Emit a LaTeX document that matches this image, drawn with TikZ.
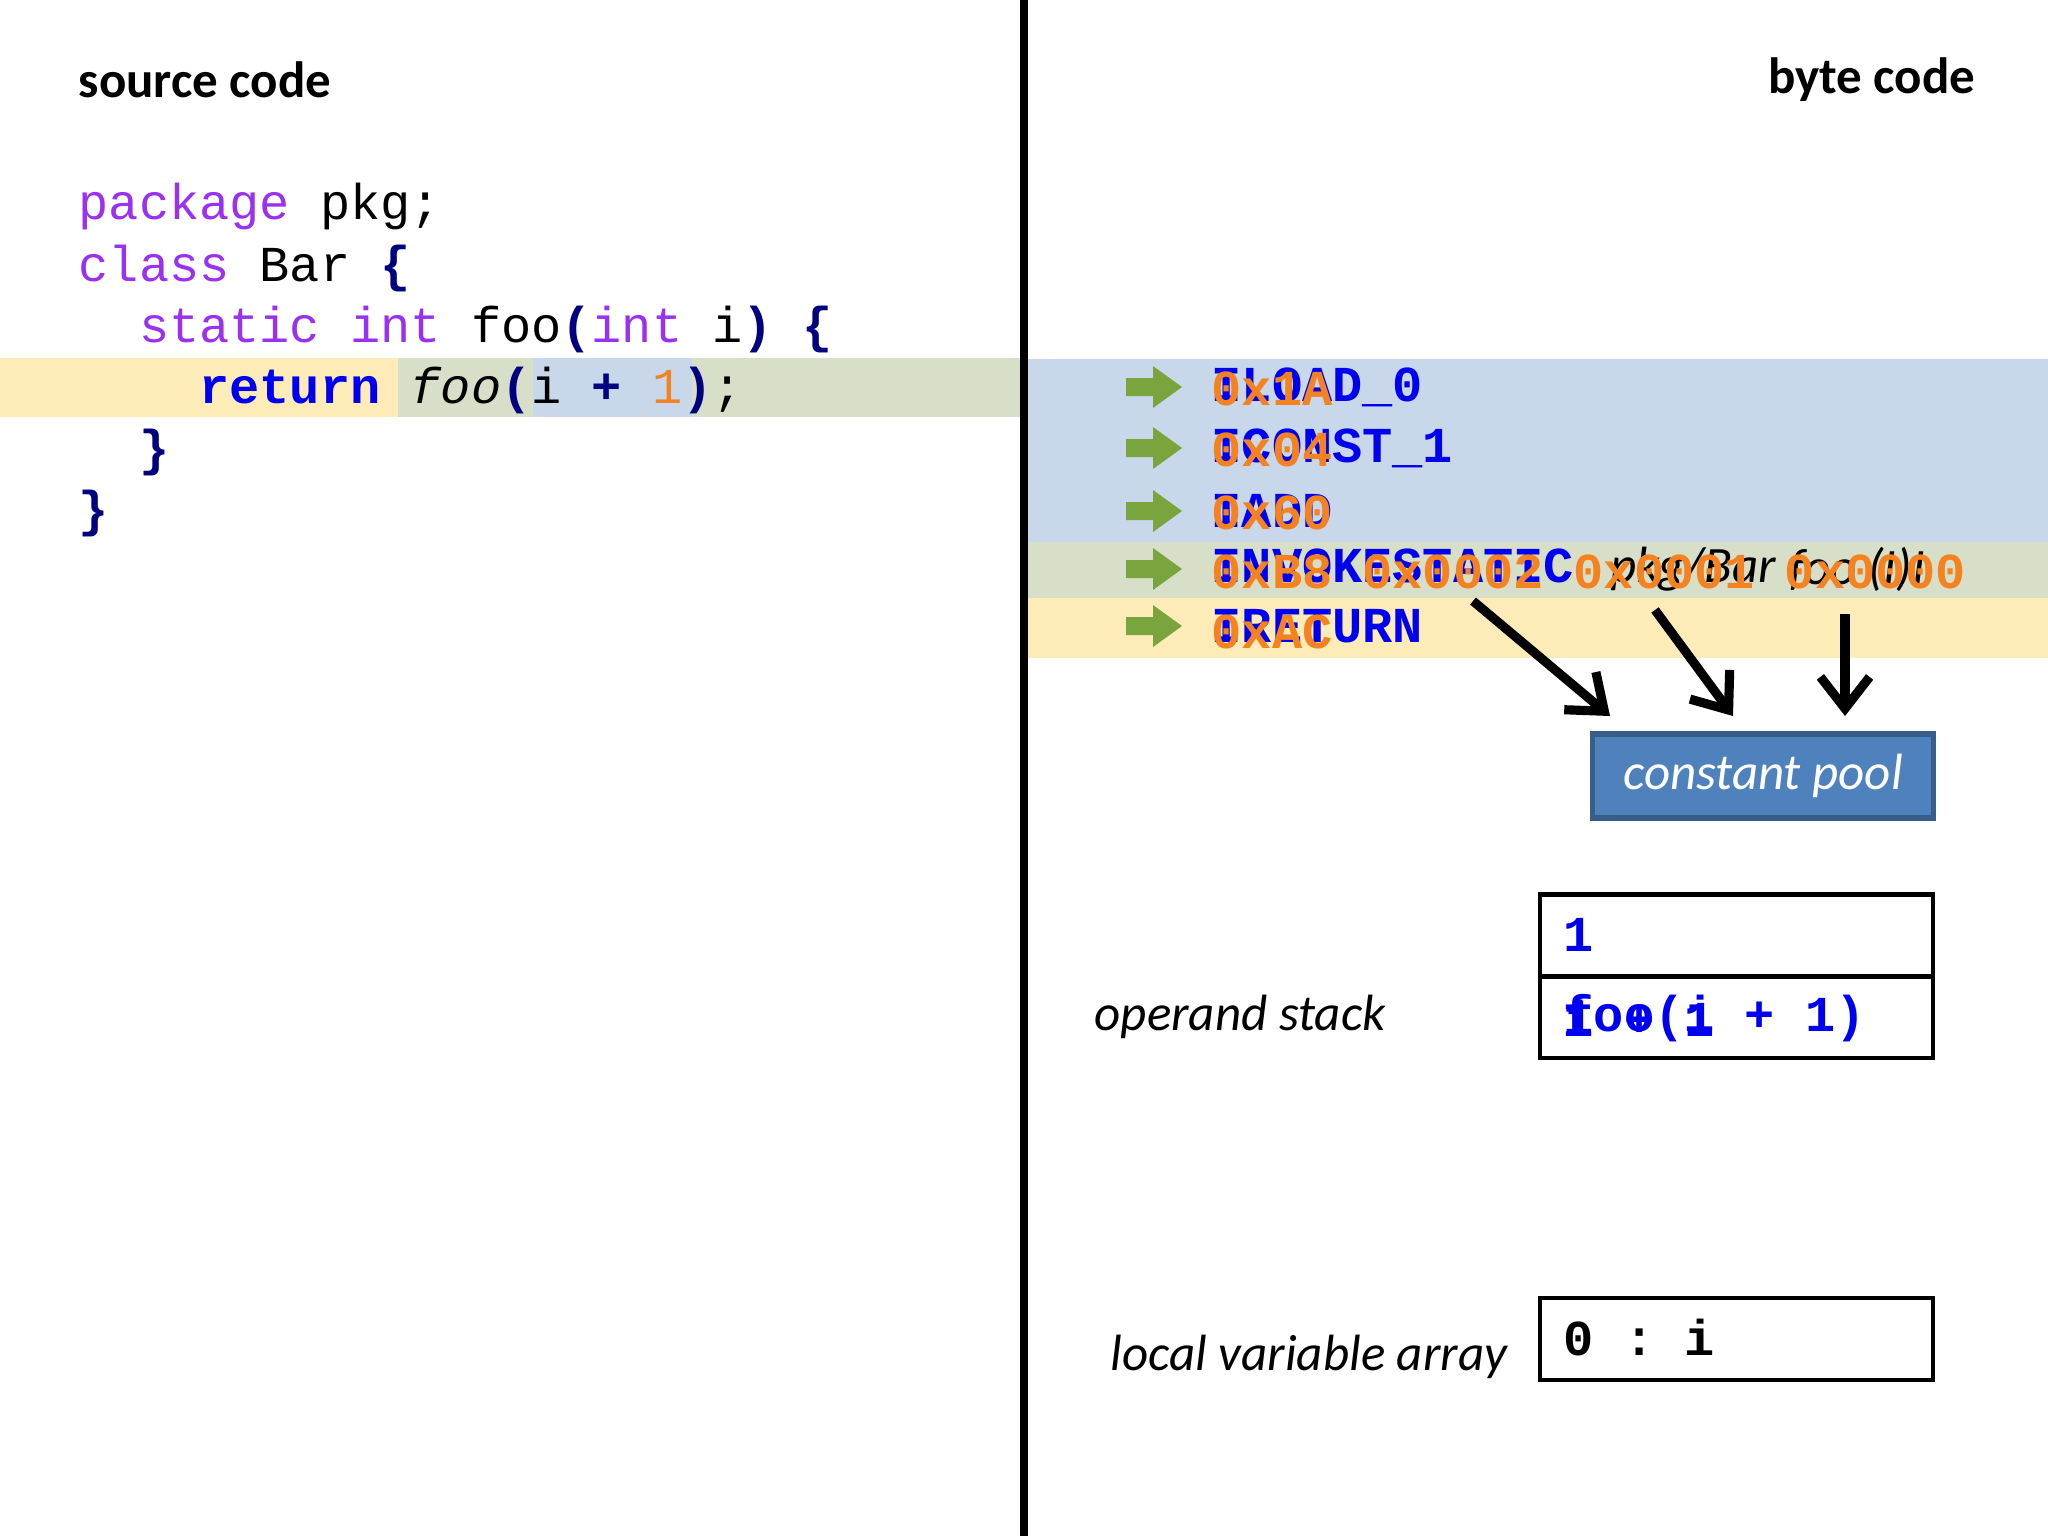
\documentclass[tikz,border=0pt]{standalone}
\usepackage{fontspec}
\usetikzlibrary{arrows.meta}
\setmainfont{Carlito}
\setmonofont{Liberation Mono}
\definecolor{kw}{HTML}{9A30F0}
\definecolor{nav}{HTML}{000080}
\definecolor{bl}{HTML}{0000F0}
\definecolor{orn}{HTML}{F58220}
\definecolor{byel}{HTML}{FDEBB8}
\definecolor{bgrn}{HTML}{D8DFC8}
\definecolor{bblu}{HTML}{C8D8EA}
\definecolor{garr}{HTML}{7AA53E}
\definecolor{cpf}{HTML}{4F81BD}
\definecolor{cpd}{HTML}{385D8A}
\begin{document}
\begin{tikzpicture}[x=0.01cm,y=-0.01cm,
  code/.style={anchor=west,inner sep=0,font=\fontsize{14.3}{16}\ttfamily},
  ins/.style={anchor=west,inner sep=0,font=\fontsize{14.3}{16}\ttfamily\bfseries,text=bl},
  hex/.style={anchor=west,inner sep=0,font=\fontsize{14.3}{16}\ttfamily\bfseries,text=orn},
  lab/.style={anchor=west,inner sep=0,font=\fontsize{14.5}{17}\selectfont\itshape},
  head/.style={inner sep=0,font=\fontsize{14.5}{17}\selectfont\bfseries},
  ptr/.style={line width=2.6pt,-{Straight Barb[length=9pt,width=14pt]}},
  cell/.style={draw,line width=1.3pt,minimum width=3.93cm,minimum height=0.82cm,inner sep=0}]
\useasboundingbox (0,0) rectangle (2048,1536);
% bands
\fill[byel] (0,358) rectangle (398,417);
\fill[bgrn] (398,358) rectangle (1022,417);
\fill[bblu] (533,358) rectangle (692,417);
\fill[bblu] (1026,359) rectangle (2048,542);
\fill[bgrn] (1026,542) rectangle (2048,598);
\fill[byel] (1026,598) rectangle (2048,658);
\draw[line width=2.5pt] (1024,0) -- (1024,1536);
% headings
\node[head,anchor=west] (sc) at (78,80) {source code};
\node[head,anchor=east] (bc) at (1976,80) {byte code};
% source
\node[code] (l1) at (78,206) {\textcolor{kw}{package} pkg;};
\node[code] (l2) at (78,268) {\textcolor{kw}{class} Bar \textcolor{nav}{\bfseries\{}};
\node[code] (l3) at (78,329) {\phantom{xx}\textcolor{kw}{static int} foo\textcolor{nav}{\bfseries(}\textcolor{kw}{int} i\textcolor{nav}{\bfseries)} \textcolor{nav}{\bfseries\{}};
\node[code] (l4) at (78,390) {\phantom{xxxx}\textcolor{bl}{\bfseries return} \textit{foo}\textcolor{nav}{\bfseries(}i \textcolor{nav}{\bfseries+} \textcolor{orn}{1}\textcolor{nav}{\bfseries)};};
\node[code] (l5) at (78,452) {\phantom{xx}\textcolor{nav}{\bfseries\}}};
\node[code] (l6) at (78,513) {\textcolor{nav}{\bfseries\}}};
% green arrows
\foreach \y/\n in {387/a1,448/a2,511/a3,569/a4,626/a5}{
  \fill[garr] (1126,\y-9) -- (1153,\y-9) -- (1153,\y-21) -- (1182,\y) -- (1153,\y+21) -- (1153,\y+9) -- (1126,\y+9) -- cycle;
  \coordinate (\n) at (1182,\y);}
% instructions
\node[ins] (i1) at (1211,387) {ILOAD\_0};
\node[hex] (h1) at (1211,389) {0x1A};
\node[ins] (i2) at (1211,448) {ICONST\_1};
\node[hex] (h2) at (1211,450) {0x04};
\node[ins] (i3) at (1211,511) {IADD};
\node[hex] (h3) at (1211,513) {0x60};
\node[ins] (i4) at (1211,566) {INVOKESTATIC};
\node[lab] (p4) at (1610,569) {pkg/Bar};
\node[lab] (f4) at (1789,569) {foo (I)I};
\node[hex] (h4) at (1211,572) {0xB8 0x0002 0x0001 0x0000};
\node[ins] (i5) at (1211,626) {IRETURN};
\node[hex] (h5) at (1211,632) {0xAC};
% constant pool
\node[fill=cpf,draw=cpd,line width=1.5pt,minimum width=3.41cm,minimum height=0.84cm,inner sep=0,text=white,font=\fontsize{14.5}{17}\selectfont\itshape] (cp) at (1763,776) {constant pool};
\coordinate (s1) at (1473,601);
\coordinate (s2) at (1655,610);
\coordinate (s3) at (1845,614);
\coordinate (e1) at (1610,716);
\coordinate (e2) at (1733,716);
\coordinate (e3) at (1845,716);
\draw[ptr] (s1) -- (e1);
\draw[ptr] (s2) -- (e2);
\draw[ptr] (s3) -- (e3);
% operand stack
\node[cell] (st1) at (1736.5,935.5) {};
\node[cell] (st2) at (1736.5,1017) {};
\node[ins] (v1) at (1563,935) {1};
\node[ins] (v2) at (1563,1018) {foo(i + 1)};
\node[ins] (v3) at (1563,1018) {i + 1};
\node[ins] (v4) at (1563,1018) {1};
\node[lab] (os) at (1094,1017) {operand stack};
% local variables
\node[cell] (lv) at (1736.5,1339) {};
\node[code,font=\fontsize{14.3}{16}\ttfamily\bfseries] (lvt) at (1563,1338) {0 : i};
\node[lab] (lva) at (1110,1357) {local variable array};
\end{tikzpicture}
\end{document}
